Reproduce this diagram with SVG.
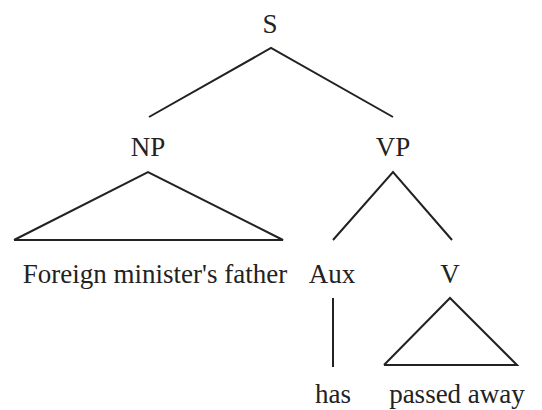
<svg xmlns="http://www.w3.org/2000/svg" width="542" height="410" viewBox="0 0 542 410">
  <style>
    text { font-family: 'Liberation Serif', 'DejaVu Serif', 'Times New Roman', Times, serif; font-size: 27px; fill: #222; text-anchor: middle; }
    .edge { stroke: #222; stroke-width: 2; fill: none; stroke-linejoin: miter; }
  </style>
  <rect width="542" height="410" fill="#fff"/>
  <g id="connectors">
    <polyline class="edge" points="149,117 271,48 393,117"/>
    <polyline class="edge" points="14,240 148,172 283,240 14,240"/>
    <polyline class="edge" points="333,240 393,172 452,240"/>
    <line class="edge" x1="333" y1="298" x2="333" y2="367"/>
    <polyline class="edge" points="384,365 450,298 517,365 384,365"/>
  </g>
  <g id="node-S"><text x="270" y="33">S</text></g>
  <g id="node-NP"><text x="148" y="156">NP</text></g>
  <g id="node-VP"><text x="393" y="156">VP</text></g>
  <g id="node-np-leaf"><text x="155" y="283">Foreign minister's father</text></g>
  <g id="node-Aux"><text x="332" y="283">Aux</text></g>
  <g id="node-V"><text x="450" y="283">V</text></g>
  <g id="node-has"><text x="333" y="403">has</text></g>
  <g id="node-passed"><text x="457" y="403">passed away</text></g>
</svg>
